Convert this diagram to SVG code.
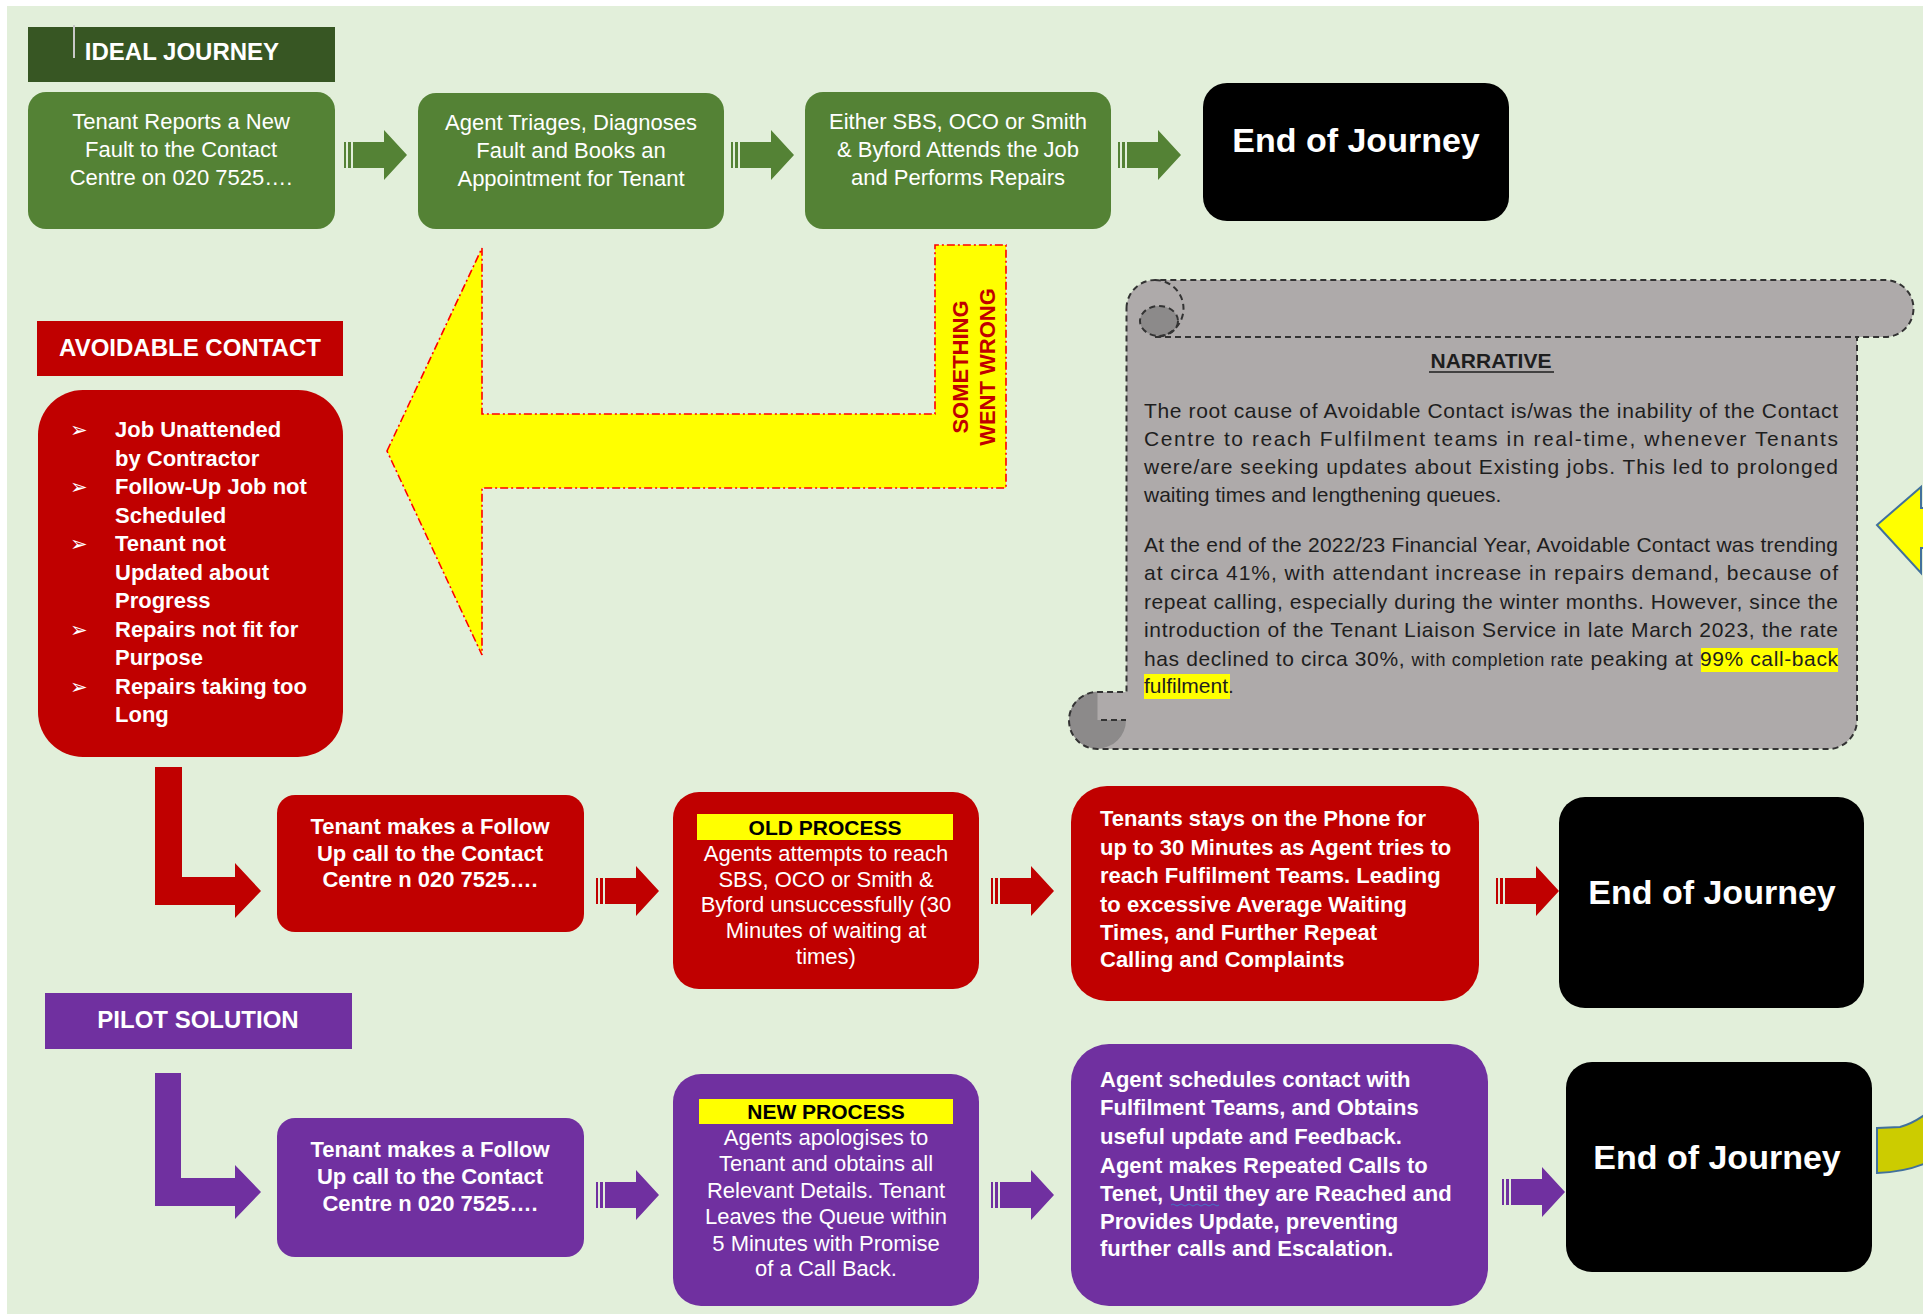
<svg xmlns="http://www.w3.org/2000/svg" width="1923" height="1314" viewBox="0 0 1923 1314">
<style>
text{font-family:"Liberation Sans",Arial,sans-serif}
.reg{font-size:22px;fill:#fff;text-anchor:middle}
.bc{font-size:22px;font-weight:bold;fill:#fff;text-anchor:middle}
.bl{font-size:22px;font-weight:bold;fill:#fff}
.eoj{font-size:34px;font-weight:bold;fill:#fff;text-anchor:middle}
.hdr{font-size:24px;font-weight:bold;fill:#fff;text-anchor:middle}
.lbl{font-size:21px;font-weight:bold;fill:#000;text-anchor:middle}
.nar{font-size:21px;fill:#1e1e1e}
.bul{font-family:"DejaVu Sans",sans-serif;font-size:21px;fill:#fff}
.green{fill:#548235}
.red{fill:#c00000}
.purple{fill:#7030a0}
.blk{fill:#000}
.ylw{fill:#ffff00}
.dash{fill:none;stroke:#333;stroke-width:2;stroke-dasharray:6 4}
</style>
<defs>
<path id="sarrow" d="M0,-13h2v26h-2zM4,-13h3v26h-3zM9,-13H40V-25L63,0L40,25V13H9z"/>
</defs>
<rect x="0" y="0" width="1923" height="1314" fill="#fff"/>
<rect x="7" y="6" width="1916" height="1308" fill="#e2efda"/>

<g id="connectors">
<use href="#sarrow" x="344" y="155" class="green"/>
<use href="#sarrow" x="731" y="155" class="green"/>
<use href="#sarrow" x="1118" y="155" class="green"/>
<use href="#sarrow" x="596" y="891" class="red"/>
<use href="#sarrow" x="991" y="891" class="red"/>
<use href="#sarrow" x="1496" y="891" class="red"/>
<use href="#sarrow" x="596" y="1195" class="purple"/>
<use href="#sarrow" x="991" y="1195" class="purple"/>
<use href="#sarrow" x="1502" y="1192" class="purple"/>
<path class="red" d="M155,767H182V877H235V863L261,891L235,918V905H155Z"/>
<path class="purple" d="M155,1073H181V1178H235V1165L261,1192L235,1219V1206H155Z"/>
<g id="something-went-wrong">
<path d="M387,451L482,248V414H935V245H1006V488H482V655Z" fill="#ffff00" stroke="#ff0000" stroke-width="1.6" stroke-dasharray="8 3 2 3"/>
<text transform="translate(968,367) rotate(-90)" font-size="22" font-weight="bold" fill="#c00000" text-anchor="middle">SOMETHING</text>
<text transform="translate(995,367) rotate(-90)" font-size="22" font-weight="bold" fill="#c00000" text-anchor="middle">WENT WRONG</text>
</g>
<path d="M1877,525L1921,487V508H1930V548H1921V573Z" fill="#ffff00" stroke="#41719c" stroke-width="2"/>
<path d="M1877,1128L1900,1127Q1912,1124 1926,1114V1163Q1905,1172 1877,1173Z" fill="#cccc00" stroke="#41719c" stroke-width="2"/>
</g>

<g id="ideal-journey-label">
<rect x="28" y="27" width="307" height="55" fill="#375623"/>
<line x1="74" y1="25" x2="74" y2="58" stroke="#c8c8c8" stroke-width="2"/>
<text x="182" y="60" class="hdr">IDEAL JOURNEY</text>
</g>
<g id="n1">
<rect x="28" y="92" width="307" height="137" rx="18" class="green"/>
<text class="reg"><tspan x="181" y="129">Tenant Reports a New</tspan><tspan x="181" y="157">Fault to the Contact</tspan><tspan x="181" y="185">Centre on 020 7525….</tspan></text>
</g>
<g id="n2">
<rect x="418" y="93" width="306" height="136" rx="18" class="green"/>
<text class="reg"><tspan x="571" y="130">Agent Triages, Diagnoses</tspan><tspan x="571" y="158">Fault and Books an</tspan><tspan x="571" y="186">Appointment for Tenant</tspan></text>
</g>
<g id="n3">
<rect x="805" y="92" width="306" height="137" rx="18" class="green"/>
<text class="reg"><tspan x="958" y="129">Either SBS, OCO or Smith</tspan><tspan x="958" y="157">&amp; Byford Attends the Job</tspan><tspan x="958" y="185">and Performs Repairs</tspan></text>
</g>
<g id="end1">
<rect x="1203" y="83" width="306" height="138" rx="24" class="blk"/>
<text x="1356" y="152" class="eoj">End of Journey</text>
</g>

<g id="avoidable-label">
<rect x="37" y="321" width="306" height="55" class="red"/>
<text x="190" y="356" class="hdr">AVOIDABLE CONTACT</text>
</g>
<g id="avoidable-list">
<rect x="38" y="390" width="305" height="367" rx="45" class="red"/>
<text class="bul"><tspan x="70" y="437">➢</tspan><tspan x="70" y="494">➢</tspan><tspan x="70" y="551">➢</tspan><tspan x="70" y="637">➢</tspan><tspan x="70" y="694">➢</tspan></text>
<text class="bl"><tspan x="115" y="437">Job Unattended</tspan><tspan x="115" y="466">by Contractor</tspan><tspan x="115" y="494">Follow-Up Job not</tspan><tspan x="115" y="523">Scheduled</tspan><tspan x="115" y="551">Tenant not</tspan><tspan x="115" y="580">Updated about</tspan><tspan x="115" y="608">Progress</tspan><tspan x="115" y="637">Repairs not  fit for</tspan><tspan x="115" y="665">Purpose</tspan><tspan x="115" y="694">Repairs taking too</tspan><tspan x="115" y="722">Long</tspan></text>
</g>

<g id="narrative">
<path d="M1126.5,308.5A28.5,28.5 0 0 1 1155,280L1885,280A28.5,28.5 0 0 1 1885,337L1857,337L1857,720A29,29 0 0 1 1828,749L1097.5,749A28.5,28.5 0 0 1 1097.5,692L1126.5,692Z" fill="#aeaaaa"/>
<path d="M1097.5,720L1126,720A28.5,28.5 0 1 1 1097.5,691.5Z" fill="#8c8a8a"/>
<ellipse cx="1159" cy="321" rx="19" ry="15" fill="#8c8a8a"/>
<path class="dash" d="M1126.5,308.5A28.5,28.5 0 0 1 1155,280L1885,280A28.5,28.5 0 0 1 1885,337L1857,337L1857,720A29,29 0 0 1 1828,749L1097.5,749A28.5,28.5 0 0 1 1097.5,692L1126.5,692Z"/>
<path class="dash" d="M1155,337L1857,337M1155,280A28.5,28.5 0 0 1 1155,337M1101,720L1126,720"/>
<ellipse cx="1159" cy="321" rx="19" ry="15" class="dash"/>
<rect x="1701" y="648" width="137" height="24" fill="#ffff00"/>
<rect x="1144" y="674" width="86" height="25" fill="#ffff00"/>
<text x="1491" y="368" font-size="21" font-weight="bold" fill="#1e1e1e" text-anchor="middle">NARRATIVE</text>
<line x1="1429" y1="372" x2="1554" y2="372" stroke="#1e1e1e" stroke-width="1.5"/>
<text class="nar" x="1144" y="418" textLength="694" lengthAdjust="spacing">The root cause of Avoidable Contact is/was the inability of the Contact</text>
<text class="nar" x="1144" y="446" textLength="694" lengthAdjust="spacing">Centre to reach Fulfilment teams in real-time, whenever Tenants</text>
<text class="nar" x="1144" y="474" textLength="694" lengthAdjust="spacing">were/are seeking updates about Existing jobs. This led to prolonged</text>
<text class="nar" x="1144" y="502">waiting times and lengthening queues.</text>
<text class="nar" x="1144" y="552" textLength="694" lengthAdjust="spacing">At the end of the 2022/23 Financial Year, Avoidable Contact was trending</text>
<text class="nar" x="1144" y="580" textLength="694" lengthAdjust="spacing">at circa 41%, with attendant increase in repairs demand, because of</text>
<text class="nar" x="1144" y="609" textLength="694" lengthAdjust="spacing">repeat calling, especially during the winter months. However, since the</text>
<text class="nar" x="1144" y="637" textLength="694" lengthAdjust="spacing">introduction of the Tenant Liaison Service in late March 2023, the rate</text>
<text class="nar" x="1144" y="666" textLength="694" lengthAdjust="spacing">has declined to circa 30%, <tspan font-size="18">with completion rate</tspan> peaking at 99% call-back</text>
<text class="nar" x="1144" y="693">fulfilment.</text>
</g>

<g id="r1">
<rect x="277" y="795" width="307" height="137" rx="18" class="red"/>
<text class="bc"><tspan x="430" y="834">Tenant makes a Follow</tspan><tspan x="430" y="861">Up call to the Contact</tspan><tspan x="430" y="887">Centre n 020 7525….</tspan></text>
</g>
<g id="r2">
<rect x="673" y="792" width="306" height="197" rx="26" class="red"/>
<rect x="697" y="814" width="256" height="26" class="ylw"/>
<text x="825" y="835" class="lbl">OLD PROCESS</text>
<text class="reg"><tspan x="826" y="861">Agents attempts to reach</tspan><tspan x="826" y="887">SBS, OCO or Smith &amp;</tspan><tspan x="826" y="912">Byford unsuccessfully (30</tspan><tspan x="826" y="938">Minutes of waiting at</tspan><tspan x="826" y="964">times)</tspan></text>
</g>
<g id="r3">
<rect x="1071" y="786" width="408" height="215" rx="36" class="red"/>
<text class="bl"><tspan x="1100" y="826">Tenants stays on the Phone for</tspan><tspan x="1100" y="855">up to 30 Minutes as Agent tries to</tspan><tspan x="1100" y="883">reach Fulfilment Teams. Leading</tspan><tspan x="1100" y="912">to excessive Average Waiting</tspan><tspan x="1100" y="940">Times, and Further Repeat</tspan><tspan x="1100" y="967">Calling and Complaints</tspan></text>
</g>
<g id="end2">
<rect x="1559" y="797" width="305" height="211" rx="26" class="blk"/>
<text x="1712" y="904" class="eoj">End of Journey</text>
</g>

<g id="pilot-label">
<rect x="45" y="993" width="307" height="56" class="purple"/>
<text x="198" y="1028" class="hdr">PILOT SOLUTION</text>
</g>
<g id="p1">
<rect x="277" y="1118" width="307" height="139" rx="18" class="purple"/>
<text class="bc"><tspan x="430" y="1157">Tenant makes a Follow</tspan><tspan x="430" y="1184">Up call to the Contact</tspan><tspan x="430" y="1211">Centre n 020 7525….</tspan></text>
</g>
<g id="p2">
<rect x="673" y="1074" width="306" height="232" rx="28" class="purple"/>
<rect x="699" y="1099" width="254" height="25" class="ylw"/>
<text x="826" y="1119" class="lbl">NEW PROCESS</text>
<text class="reg"><tspan x="826" y="1145">Agents apologises to</tspan><tspan x="826" y="1171">Tenant and obtains all</tspan><tspan x="826" y="1198">Relevant Details. Tenant</tspan><tspan x="826" y="1224">Leaves the Queue within</tspan><tspan x="826" y="1251">5 Minutes with Promise</tspan><tspan x="826" y="1276">of a Call Back.</tspan></text>
</g>
<g id="p3">
<rect x="1071" y="1044" width="417" height="262" rx="38" class="purple"/>
<text class="bl"><tspan x="1100" y="1087">Agent schedules contact with</tspan><tspan x="1100" y="1115">Fulfilment Teams, and Obtains</tspan><tspan x="1100" y="1144">useful update and Feedback.</tspan><tspan x="1100" y="1173">Agent makes Repeated Calls to</tspan><tspan x="1100" y="1201">Tenet, Until they are Reached and</tspan><tspan x="1100" y="1229">Provides Update, preventing</tspan><tspan x="1100" y="1256">further calls and Escalation.</tspan></text>
<path d="M1171,1205q2,-2 4,0t4,0t4,0t4,0t4,0t4,0t4,0t4,0t4,0t4,0t4,0t4,0" fill="none" stroke="#4472c4" stroke-width="1"/>
</g>
<g id="end3">
<rect x="1566" y="1062" width="306" height="210" rx="26" class="blk"/>
<text x="1717" y="1169" class="eoj">End of Journey</text>
</g>
</svg>
